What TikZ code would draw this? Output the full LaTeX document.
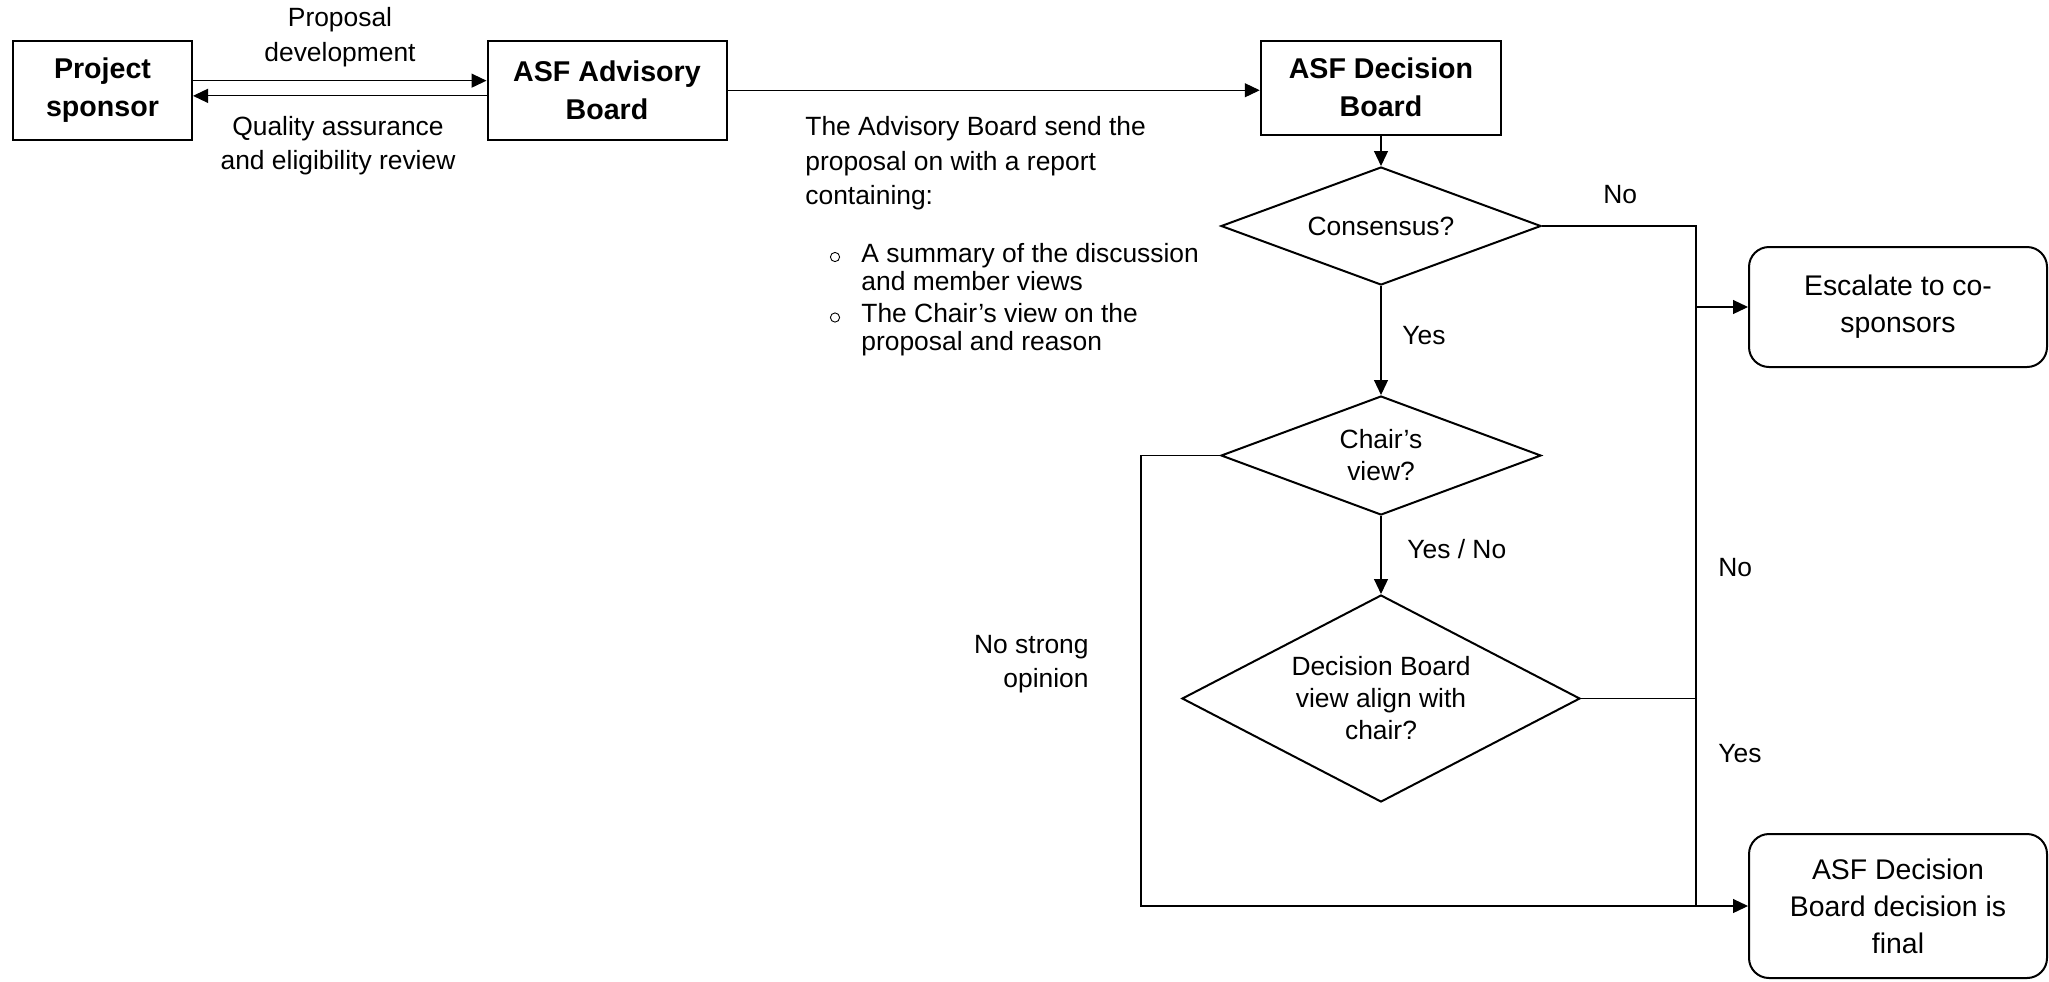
\documentclass[tikz,border=0pt]{standalone}
\usepackage{fontspec}
\setmainfont{Liberation Sans}
\usepackage{tikz}
\usetikzlibrary{shapes.geometric, arrows.meta, calc, positioning}

\tikzset{
  box/.style={draw, line width=1pt, align=center, inner sep=0pt,
    font=\bfseries\fontsize{14.3}{19}\selectfont},
  term/.style={draw, line width=1pt, rounded corners=10pt, align=center, inner sep=0pt,
    minimum width=149pt, font=\fontsize{14.2}{18.5}\selectfont},
  ask/.style={draw, diamond, line width=1pt, align=center, inner sep=0pt,
    font=\fontsize{13.2}{16}\selectfont},
  lbl/.style={inner sep=0pt, font=\fontsize{13.2}{17.3}\selectfont},
  dot/.style={circle, draw, line width=0.45pt, minimum size=4.6pt, inner sep=0pt},
  arr/.style={-{Triangle[length=7.5pt,width=7pt]}, line width=0.6pt},
  link/.style={line width=0.6pt}
}

\begin{document}
\begin{tikzpicture}[x=0.5pt,y=-0.5pt]
    \useasboundingbox (0,0) rectangle (2049,981);
    \node (sponsor) at (102.5,90.25) [box, minimum width=89.5pt, minimum height=49.75pt] {Project\\sponsor};
    \node (advisory) at (607,90.25) [box, minimum width=119.5pt, minimum height=49.75pt] {ASF Advisory\\Board};
    \node (decision) at (1381,87.5) [box, minimum width=120.25pt, minimum height=47pt] {ASF Decision\\Board};

    \node (consensus) at (1381,226) [ask, aspect=2.7, minimum width=160pt, minimum height=59pt] {Consensus?};
    \node (chair) at (1381,455.5) [ask, aspect=2.7, minimum width=160pt, minimum height=59.5pt] {Chair’s\\view?};
    \node (align) at (1381,698.5) [ask, aspect=1.92, minimum width=199pt, minimum height=103.5pt] {Decision Board\\view align with\\chair?};

    \node (escalate) at (1898,307) [term, minimum height=60pt] {Escalate to co-\\sponsors};
    \node (final) at (1898,906) [term, minimum height=72pt] {ASF Decision\\Board decision is\\final};

    \coordinate (jx) at (1696,0);
    \coordinate (lx) at (1141,0);

    \draw[arr] ([yshift=4.8pt]sponsor.east) -- ([yshift=4.8pt]advisory.west);
    \draw[arr] ([yshift=-2.8pt]advisory.west) -- ([yshift=-2.8pt]sponsor.east);
    \draw[arr] (advisory.east) -- (advisory.east -| decision.west);
    \draw[arr] (decision) -- (consensus);
    \draw[arr] (consensus) -- (chair);
    \draw[arr] (chair) -- (align);
    \draw[link] (consensus.east) -- (consensus.east -| jx) -- (jx |- final.west);
    \draw[arr] (jx |- escalate.west) -- (escalate.west);
    \draw[link] (align.east) -- (align.east -| jx);
    \draw[arr] (chair.west) -- (chair.west -| lx) -- (lx |- final.west) -- (final.west);

    \node (propdev) at (340,37) [lbl, align=center] {Proposal\\development};
    \node (quality) at (338,145.5) [lbl, align=center] {Quality assurance\\and eligibility review};
    \node (report) at (805,116) [lbl, align=left, anchor=north west] {The Advisory Board send the\\proposal on with a report\\containing:};
    \node (dot1) at (835,257) [dot] {};
    \node (item1) at (861,242.5) [lbl, align=left, anchor=north west, font=\fontsize{13.2}{14}\selectfont] {A summary of the discussion\\and member views};
    \node (dot2) at (835,317.5) [dot] {};
    \node (item2) at (861,302.5) [lbl, align=left, anchor=north west, font=\fontsize{13.2}{14}\selectfont] {The Chair’s view on the\\proposal and reason};

    \node (yes1) at (1402,336) [lbl, right] {Yes};
    \node (yesno) at (1407,549) [lbl, right] {Yes / No};
    \node (no1) at (1603,195) [lbl, right] {No};
    \node (no2) at (1718,568) [lbl, right] {No};
    \node (yes2) at (1718,754) [lbl, right] {Yes};
    \node (strong) at (1089,664) [lbl, left, align=right] {No strong\\opinion};
\end{tikzpicture}
\end{document}
